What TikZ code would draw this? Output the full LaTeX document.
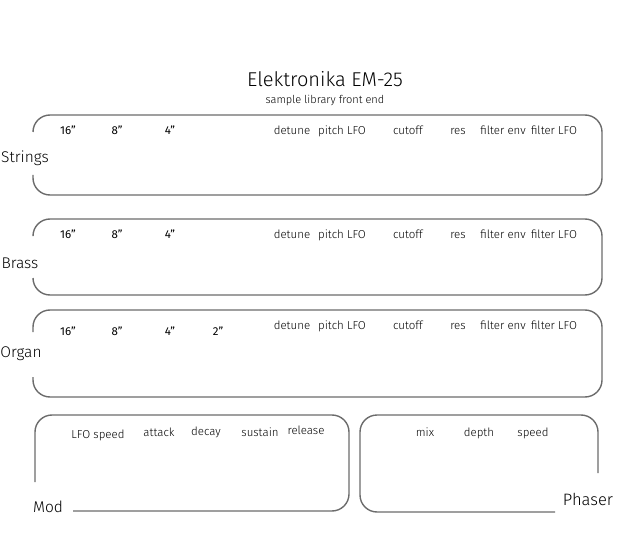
\documentclass[tikz,border=0pt]{standalone}
\usepackage{fontspec}
\setmainfont{Fira Sans}[UprightFont=* Light]
\newfontfamily\regfont{Fira Sans}
\begin{document}
\begin{tikzpicture}[x=1pt,y=-1pt,
  panel/.style={draw=black!58,line width=1.4pt,rounded corners=17pt},
  lab/.style={font=\fontsize{11.5}{12}\selectfont,inner sep=0pt,text=black,text height=8pt,text depth=2.5pt,yshift=-2pt},
  inch/.style={lab,font=\regfont\fontsize{11.5}{12}\selectfont},
  side/.style={font=\fontsize{15.5}{16}\selectfont,inner sep=0pt,text=black}]
\useasboundingbox (0,0) rectangle (632,540);
% title
\node[font=\fontsize{20}{21}\selectfont,inner sep=0pt] (title) at (325,79) {Elektronika EM-25};
\node[font=\fontsize{11}{12}\selectfont,inner sep=0pt] (sub) at (325,100) {sample library front end};
% Strings panel
\draw[panel] (33,132) -- (33,115) -- (602,115) -- (602,195) -- (33,195) -- (33,175);
\node[side] (strings) at (25,158) {Strings};
\foreach \t/\x [count=\i] in {16/68,8/117,4/170}
  \node[inch] (si\i) at (\x,130) {\t”};
\foreach \t/\x [count=\i] in {detune/292,pitch LFO/342,cutoff/408,res/458,filter env/503,filter LFO/554}
  \node[lab] (s\i) at (\x,130) {\t};
% Brass panel
\draw[panel] (33,235) -- (33,219) -- (602,219) -- (602,295) -- (33,295) -- (33,278);
\node[side] (brass) at (20,263) {Brass};
\foreach \t/\x [count=\i] in {16/68,8/117,4/170}
  \node[inch] (bi\i) at (\x,234) {\t”};
\foreach \t/\x [count=\i] in {detune/292,pitch LFO/342,cutoff/408,res/458,filter env/503,filter LFO/554}
  \node[lab] (b\i) at (\x,234) {\t};
% Organ panel
\draw[panel] (33,332) -- (33,310) -- (602,310) -- (602,397) -- (33,397) -- (33,377);
\node[side] (organ) at (21,354) {Organ};
\foreach \t/\x [count=\i] in {16/68,8/117,4/170,2/218}
  \node[inch] (o\i) at (\x,331) {\t”};
\foreach \t/\x [count=\i] in {detune/292,pitch LFO/342,cutoff/408,res/458,filter env/503,filter LFO/554}
  \node[lab] (p\i) at (\x,325) {\t};
% Mod panel
\draw[panel] (35,482) -- (35,415) -- (349,415) -- (349,511) -- (73,511);
\node[side] (mod) at (48,507) {Mod};
\node[lab] (m1) at (98,434) {LFO speed};
\node[lab] (m2) at (159,432) {attack};
\node[lab] (m3) at (206,431) {decay};
\node[lab] (m4) at (260,432) {sustain};
\node[lab] (m5) at (306,430) {release};
% Phaser panel
\draw[panel] (555,512) -- (360,512) -- (360,415) -- (598,415) -- (598,473);
\node[side,font=\fontsize{16.5}{17}\selectfont] (phaser) at (588,499) {Phaser};
\node[lab] (f1) at (425,432) {mix};
\node[lab] (f2) at (479,432) {depth};
\node[lab] (f3) at (533,432) {speed};
\end{tikzpicture}
\end{document}
